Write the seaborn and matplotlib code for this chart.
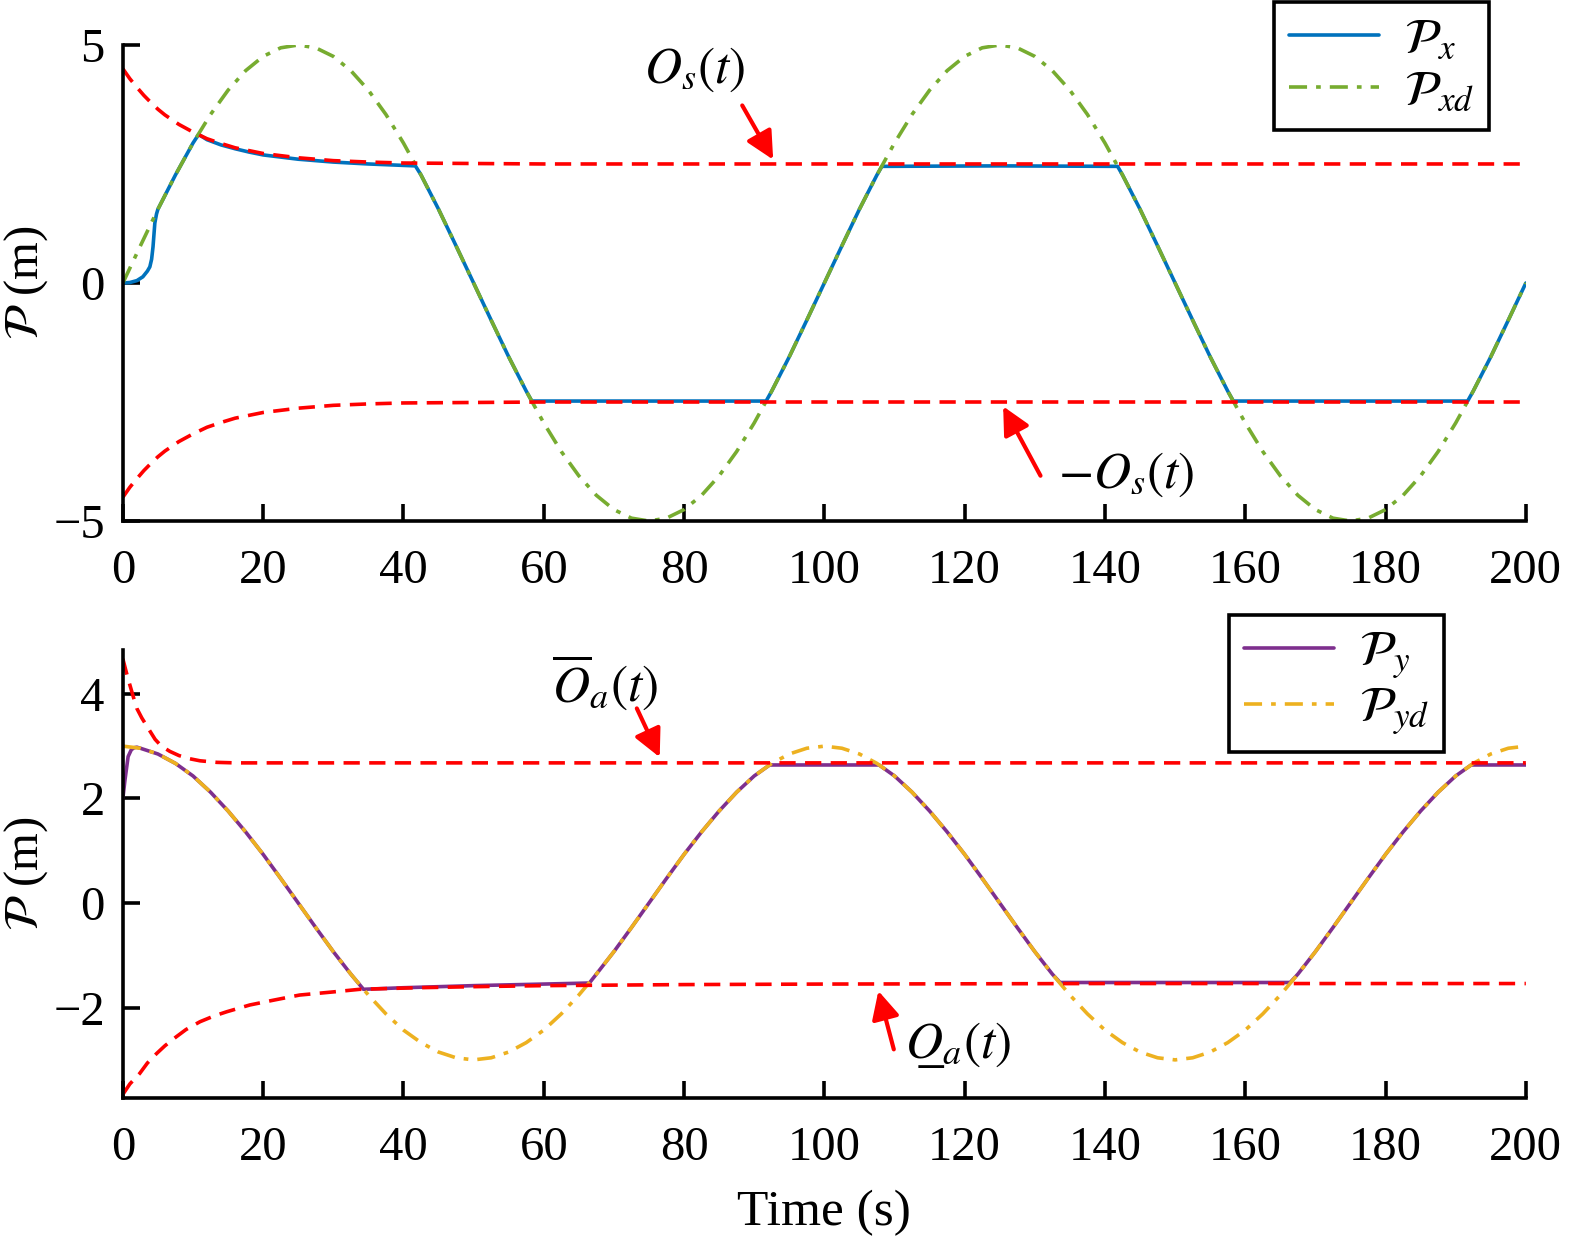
import numpy as np
import pandas as pd
import seaborn as sns
import matplotlib
matplotlib.use('Agg')
import matplotlib.pyplot as plt

# ---- top panel (x direction) ----
grid_t = [i * 2.5 for i in range(81)]

pxd_v = [0, 0.78, 1.55, 2.27, 2.94, 3.54, 4.05, 4.46, 4.76, 4.94,
         5.00, 4.94, 4.76, 4.46, 4.05, 3.54, 2.94, 2.27, 1.55, 0.78,
         0, -0.78, -1.55, -2.27, -2.94, -3.54, -4.05, -4.46, -4.76, -4.94,
         -5.00, -4.94, -4.76, -4.46, -4.05, -3.54, -2.94, -2.27, -1.55, -0.78,
         0, 0.78, 1.55, 2.27, 2.94, 3.54, 4.05, 4.46, 4.76, 4.94,
         5.00, 4.94, 4.76, 4.46, 4.05, 3.54, 2.94, 2.27, 1.55, 0.78,
         0, -0.78, -1.55, -2.27, -2.94, -3.54, -4.05, -4.46, -4.76, -4.94,
         -5.00, -4.94, -4.76, -4.46, -4.05, -3.54, -2.94, -2.27, -1.55, -0.78,
         0]

px_t = [0, 1, 2, 2.85, 3.5, 3.85, 4.1, 4.3, 4.56, 4.8, 5, 7.5, 10, 10.8,
        12, 14, 16, 18, 20, 25, 30, 35, 40, 41.7, 42.5, 45, 47.5, 50,
        52.5, 55, 57.5, 58.3, 75, 91.7, 92.5, 95, 97.5, 100, 102.5, 105,
        107.5, 108.2, 125, 141.8, 142.5, 145, 147.5, 150, 152.5, 155,
        157.5, 158.3, 175, 191.7, 192.5, 195, 197.5, 200]
px_v = [0, 0.01, 0.05, 0.13, 0.25, 0.34, 0.5, 0.76, 1.26, 1.45, 1.55, 2.27,
        2.94, 3.12, 3.01, 2.90, 2.82, 2.75, 2.69, 2.60, 2.54, 2.50, 2.47,
        2.46, 2.27, 1.55, 0.78, 0, -0.78, -1.55, -2.27, -2.48, -2.48,
        -2.48, -2.27, -1.55, -0.78, 0, 0.78, 1.55, 2.27, 2.45, 2.46,
        2.45, 2.27, 1.55, 0.78, 0, -0.78, -1.55, -2.27, -2.48, -2.48,
        -2.48, -2.27, -1.55, -0.78, 0]

os_t = [0, 1, 2, 3, 4, 5, 6, 8, 10, 12, 14, 16, 18, 20, 25, 30, 35, 40,
        50, 60, 100, 200]
os_v = [4.50, 4.29, 4.11, 3.94, 3.79, 3.65, 3.53, 3.33, 3.17, 3.03, 2.93,
        2.84, 2.78, 2.72, 2.63, 2.57, 2.54, 2.52, 2.51, 2.50, 2.50, 2.50]

# ---- bottom panel (y direction) ----
pyd_v = [3.00, 2.96, 2.85, 2.67, 2.43, 2.12, 1.76, 1.36, 0.93, 0.47,
         0, -0.47, -0.93, -1.36, -1.76, -2.12, -2.43, -2.67, -2.85, -2.96,
         -3.00, -2.96, -2.85, -2.67, -2.43, -2.12, -1.76, -1.36, -0.93, -0.47,
         0, 0.47, 0.93, 1.36, 1.76, 2.12, 2.43, 2.67, 2.85, 2.96,
         3.00, 2.96, 2.85, 2.67, 2.43, 2.12, 1.76, 1.36, 0.93, 0.47,
         0, -0.47, -0.93, -1.36, -1.76, -2.12, -2.43, -2.67, -2.85, -2.96,
         -3.00, -2.96, -2.85, -2.67, -2.43, -2.12, -1.76, -1.36, -0.93, -0.47,
         0, 0.47, 0.93, 1.36, 1.76, 2.12, 2.43, 2.67, 2.85, 2.96,
         3.00]

py_t = [0, 0.3, 0.75, 1.2, 1.6, 2, 2.5, 5, 7.5, 10, 12.5, 15, 17.5, 20,
        22.5, 25, 27.5, 30, 32.5, 34.3, 40, 50, 60, 66.5, 67.5, 70, 72.5,
        75, 77.5, 80, 82.5, 85, 87.5, 90, 92.2, 100, 107.8, 110, 112.5,
        115, 117.5, 120, 122.5, 125, 127.5, 130, 132.5, 133.6, 150, 166.4,
        167.5, 170, 172.5, 175, 177.5, 180, 182.5, 185, 187.5, 190, 192.2,
        200]
py_v = [2.00, 2.35, 2.80, 2.93, 2.97, 2.98, 2.96, 2.85, 2.67, 2.43, 2.12,
        1.76, 1.36, 0.93, 0.47, 0, -0.47, -0.93, -1.36, -1.65, -1.62,
        -1.58, -1.55, -1.53, -1.36, -0.93, -0.47, 0, 0.47, 0.93, 1.36,
        1.76, 2.12, 2.43, 2.64, 2.64, 2.64, 2.43, 2.12, 1.76, 1.36, 0.93,
        0.47, 0, -0.47, -0.93, -1.36, -1.52, -1.52, -1.52, -1.36, -0.93,
        -0.47, 0, 0.47, 0.93, 1.36, 1.76, 2.12, 2.43, 2.64, 2.64]

oa_up_t = [0, 0.5, 1, 1.5, 2, 2.7, 3.9, 4.6, 5.5, 6.7, 8, 9.5, 11, 13.4,
           16, 20, 200]
oa_up_v = [4.67, 4.41, 4.17, 3.94, 3.72, 3.54, 3.28, 3.13, 3.00, 2.90,
           2.82, 2.76, 2.72, 2.69, 2.68, 2.68, 2.68]

oa_lo_t = [0, 1, 2.4, 3.5, 4.8, 6, 7.6, 9, 11, 13, 14.8, 18.1, 21.4, 25.2,
           30, 33.8, 42, 50, 60, 80, 100, 140, 200]
oa_lo_v = [-3.66, -3.46, -3.26, -3.06, -2.88, -2.73, -2.56, -2.42, -2.27,
           -2.16, -2.08, -1.95, -1.86, -1.76, -1.70, -1.65, -1.62, -1.60,
           -1.58, -1.56, -1.55, -1.54, -1.54]

BLUE = '#0072BD'
GREEN = '#77AC30'
RED = '#FF0000'
PURPLE = '#7E2F8E'
YELLOW = '#EDB120'
LW = 2.6
FS = 35


def style_axes(ax):
    sns.despine(ax=ax)
    for s in ['left', 'bottom']:
        ax.spines[s].set_linewidth(2.6)
        ax.spines[s].set_color('black')
    ax.tick_params(direction='in', length=12, width=2.6, labelsize=FS,
                   colors='black')
    ax.tick_params(axis='x', pad=20)
    ax.tick_params(axis='y', pad=13)
    ax.set_xlim(0, 200)
    ax.set_xticks(range(0, 201, 20))
    ax.set_ylabel(r'$\mathcal{P}$ (m)', fontsize=FS, color='black')
    ax.yaxis.set_label_coords(-0.052, 0.5)


def add_legend(ax, anchor):
    h, l = ax.get_legend_handles_labels()
    leg = ax.legend(h[:2], l[:2], loc='upper right', bbox_to_anchor=anchor,
                    fontsize=FS + 1, fancybox=False, edgecolor='black',
                    framealpha=1, borderpad=0.3, labelspacing=0.1,
                    handlelength=1.8, handletextpad=0.5, borderaxespad=0)
    leg.get_frame().set_linewidth(2.6)


def main():
    sns.set_style('ticks')
    plt.rcParams['font.family'] = ['Liberation Serif', 'DejaVu Serif']
    plt.rcParams['mathtext.fontset'] = 'stix'
    plt.rcParams['axes.unicode_minus'] = True
    plt.rcParams['text.color'] = 'black'
    plt.rcParams['axes.labelcolor'] = 'black'

    fig = plt.figure(figsize=(15.75, 12.42), dpi=100)
    ax1 = fig.add_axes([0.078, 0.5805, 0.8908, 0.3833])
    ax2 = fig.add_axes([0.078, 0.1159, 0.8908, 0.3608])

    dash = (0, (4.5, 2.6))
    dashdot = (0, (5, 2.5, 1.3, 2.5))
    arrow = dict(arrowstyle='-|>', color=RED, lw=3, mutation_scale=42)

    # top
    df = pd.DataFrame({'t': px_t, 'v': px_v})
    sns.lineplot(data=df, x='t', y='v', ax=ax1, color=BLUE, lw=LW,
                 label=r'$\mathcal{P}_x$')
    df = pd.DataFrame({'t': grid_t, 'v': pxd_v})
    sns.lineplot(data=df, x='t', y='v', ax=ax1, color=GREEN, lw=LW,
                 linestyle=dashdot, label=r'$\mathcal{P}_{xd}$')
    df = pd.DataFrame({'t': os_t, 'up': os_v, 'lo': [-v for v in os_v]})
    sns.lineplot(data=df, x='t', y='up', ax=ax1, color=RED, lw=LW, linestyle=dash)
    sns.lineplot(data=df, x='t', y='lo', ax=ax1, color=RED, lw=LW, linestyle=dash)
    style_axes(ax1)
    ax1.set_ylim(-5, 5)
    ax1.set_yticks([-5, 0, 5])
    ax1.set_xlabel('')
    add_legend(ax1, (0.974, 1.09))

    ax1.text(81.5, 4.47, r'$O_s(t)$', fontsize=FS + 2, ha='center', va='center')
    ax1.annotate('', xy=(92.9, 2.54), xytext=(88.1, 3.78), arrowprops=arrow)
    ax1.text(143.1, -4.03, r'$-O_s(t)$', fontsize=FS + 2, ha='center', va='center')
    ax1.annotate('', xy=(125.3, -2.54), xytext=(131.0, -4.10), arrowprops=arrow)

    # bottom
    df = pd.DataFrame({'t': py_t, 'v': py_v})
    sns.lineplot(data=df, x='t', y='v', ax=ax2, color=PURPLE, lw=LW,
                 label=r'$\mathcal{P}_y$')
    df = pd.DataFrame({'t': grid_t, 'v': pyd_v})
    sns.lineplot(data=df, x='t', y='v', ax=ax2, color=YELLOW, lw=LW,
                 linestyle=dashdot, label=r'$\mathcal{P}_{yd}$')
    df = pd.DataFrame({'t': oa_up_t, 'v': oa_up_v})
    sns.lineplot(data=df, x='t', y='v', ax=ax2, color=RED, lw=LW, linestyle=dash)
    df = pd.DataFrame({'t': oa_lo_t, 'v': oa_lo_v})
    sns.lineplot(data=df, x='t', y='v', ax=ax2, color=RED, lw=LW, linestyle=dash)
    style_axes(ax2)
    ax2.set_ylim(-3.73, 4.84)
    ax2.set_yticks([-2, 0, 2, 4])
    ax2.set_xlabel('Time (s)', fontsize=FS + 2, labelpad=14, color='black')
    add_legend(ax2, (0.942, 1.078))

    ax2.text(68.7, 4.21, r'$\overline{O}_a(t)$', fontsize=FS + 2, ha='center', va='center')
    ax2.annotate('', xy=(76.7, 2.74), xytext=(73.1, 3.77), arrowprops=arrow)
    ax2.text(119.0, -2.72, '$O\u0332_a(t)$', fontsize=FS + 2, ha='center', va='center')
    ax2.annotate('', xy=(107.6, -1.63), xytext=(110.0, -2.85), arrowprops=arrow)

    fig.savefig('out.png', dpi=100)
    plt.close(fig)


if __name__ == '__main__':
    main()
